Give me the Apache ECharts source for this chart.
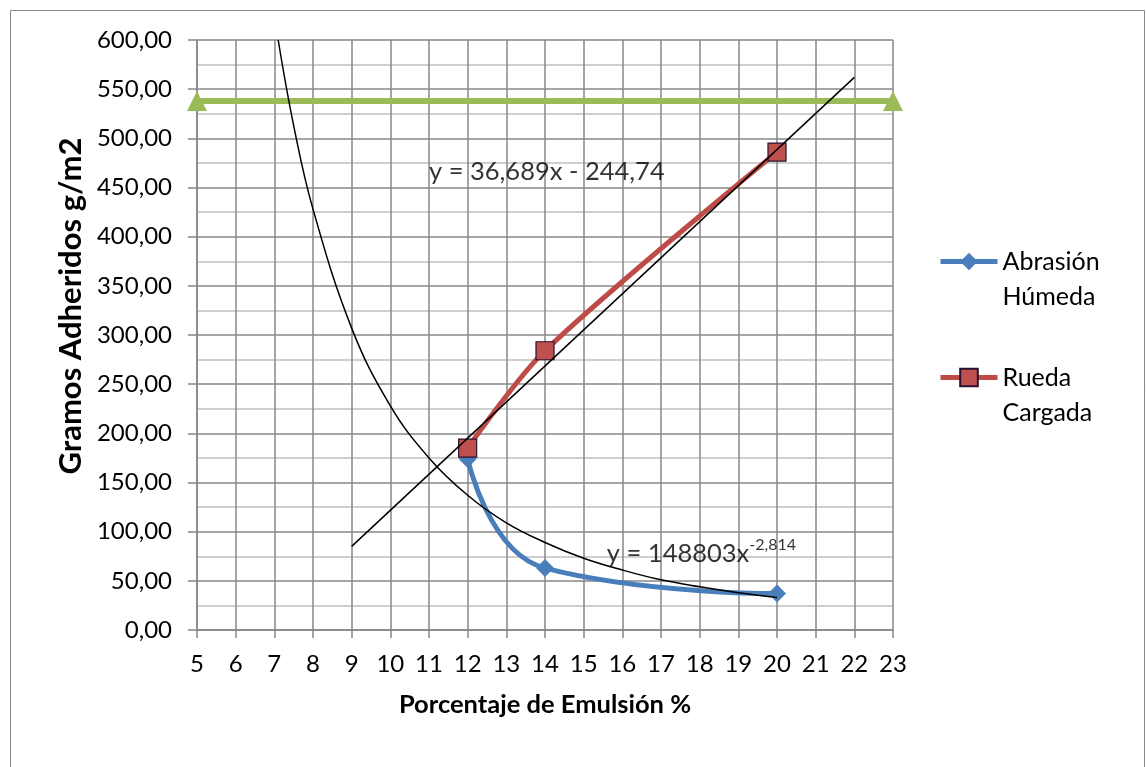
<!DOCTYPE html>
<html>
<head>
<meta charset="utf-8">
<script src="https://cdn.jsdelivr.net/npm/echarts@6/dist/echarts.min.js"></script>
<style>html,body{margin:0;padding:0;background:#fff}#c{width:1146px;height:767px}</style>
</head>
<body>
<div id="c"></div>
<script>
// ---- data ----
var xTicks = [5,6,7,8,9,10,11,12,13,14,15,16,17,18,19,20,21,22,23];
var yTicks = [0,50,100,150,200,250,300,350,400,450,500,550,600];
var abrasionX = [12, 14, 20];
var abrasionY = [174, 63, 37];
var ruedaX = [12, 14, 20];
var ruedaY = [185, 284, 486];
var limiteX = [5, 23];
var limiteY = [538, 538];
var linTrendX = [9, 22];
var linTrendY = [85, 562];
var powTrendX = [7.1, 7.5, 8, 9, 10, 11, 12, 13, 14, 15, 16, 17, 18, 19, 20];
var powTrendY = [600, 513, 428, 307, 228, 175, 137, 109, 89, 73, 61, 51, 44, 38, 33];
var linLabel = 'y = 36,689x - 244,74';
var linLabelAt = [11.0, 466];
var powLabelBase = 'y = 148803x';
var powLabelExp = '-2,814';
var powLabelAt = [15.6, 78];

function pairs(xs, ys){ return xs.map(function(x,i){ return [x, ys[i]]; }); }

var FONT = 'Lato';
function legendCfg(name, top){
  return {
    data: [name], orient: 'vertical', left: 933, top: top,
    itemWidth: 57, itemHeight: 22, itemGap: 6,
    lineStyle: {width: 5},
    formatter: function(n){ return '\n' + n.replace(' ', '\n'); },
    textStyle: {fontSize: 25, lineHeight: 35, color: '#000', fontFamily: FONT}
  };
}
var chart = echarts.init(document.getElementById('c'));
chart.setOption({
  animation: false,
  backgroundColor: '#fff',
  textStyle: {fontFamily: FONT},
  graphic: [{
    type: 'rect', shape: {x: 10.5, y: 10.5, width: 1134, height: 770},
    style: {fill: 'none', stroke: '#878787', lineWidth: 1}, silent: true, z: -10
  }],
  grid: {left: 197, top: 40, width: 696, height: 590, containLabel: false},
  xAxis: {
    type: 'value', min: 5, max: 23, interval: 1,
    axisLine: {show: true, lineStyle: {color: '#878787', width: 1.5}},
    axisTick: {show: true, length: 8, lineStyle: {color: '#878787', width: 1.5}},
    splitLine: {show: true, lineStyle: {color: '#878787', width: 1.5}},
    axisLabel: {margin: 22, fontSize: 24, color: '#000', fontFamily: FONT,
      formatter: function(v){ return xTicks.indexOf(v) >= 0 ? String(v) : ''; }},
    name: 'Porcentaje de Emulsión %', nameLocation: 'middle', nameGap: 62,
    nameTextStyle: {fontSize: 25.5, fontWeight: 'bold', color: '#000', fontFamily: FONT}
  },
  yAxis: {
    type: 'value', min: 0, max: 600, interval: 50,
    axisLine: {show: true, lineStyle: {color: '#878787', width: 1.5}},
    axisTick: {show: true, length: 9, lineStyle: {color: '#878787', width: 1.5}},
    splitLine: {show: true, lineStyle: {color: '#878787', width: 1.5}},
    minorTick: {show: false, splitNumber: 2},
    minorSplitLine: {show: true, lineStyle: {color: '#c0c0c0', width: 1.5}},
    axisLabel: {margin: 25, fontSize: 24, color: '#000', fontFamily: FONT,
      formatter: function(v){ return yTicks.indexOf(v) >= 0 ? v.toFixed(2).replace('.', ',') : ''; }},
    name: 'Gramos Adheridos g/m2', nameLocation: 'middle', nameGap: 92,
    nameTextStyle: {fontSize: 31, fontWeight: 'bold', color: '#000', fontFamily: FONT, padding: [0,0,0,58]}
  },
  legend: [legendCfg('Abrasión Húmeda', 204), legendCfg('Rueda Cargada', 320)],
  series: [
    {
      name: 'Límite', type: 'line', data: pairs(limiteX, limiteY),
      symbol: 'triangle', symbolSize: 20, z: 3,
      lineStyle: {color: '#9bbb59', width: 6}, itemStyle: {color: '#9bbb59'}
    },
    {
      name: 'Abrasión Húmeda', type: 'line', data: pairs(abrasionX, abrasionY),
      smooth: 0.5, symbol: 'diamond', symbolSize: 18, z: 4,
      lineStyle: {color: '#4a7ebb', width: 5}, itemStyle: {color: '#4a7ebb'}
    },
    {
      name: 'Rueda Cargada', type: 'line', data: pairs(ruedaX, ruedaY),
      smooth: 0.3, symbol: 'rect', symbolSize: 18, z: 5,
      lineStyle: {color: '#be4b48', width: 5},
      itemStyle: {color: '#c0504d', borderColor: '#2a1030', borderWidth: 1.2}
    },
    {
      name: 'lin', type: 'line', data: pairs(linTrendX, linTrendY),
      symbol: 'none', z: 6, lineStyle: {color: '#000', width: 1.5}
    },
    {
      name: 'pow', type: 'line', data: pairs(powTrendX, powTrendY),
      smooth: 0.4, symbol: 'none', z: 6, lineStyle: {color: '#000', width: 1.5}
    },
    {
      name: 'labels', type: 'scatter', symbolSize: 0, z: 7, silent: true,
      data: [
        {value: linLabelAt, label: {show: true, position: 'right', distance: 0,
          formatter: linLabel, fontSize: 25.5, color: '#000', fontFamily: FONT}},
        {value: powLabelAt, label: {show: true, position: 'right', distance: 0,
          formatter: '{b|' + powLabelBase + '}{s|' + powLabelExp + '}',
          rich: {
            b: {fontSize: 25.5, color: '#000', fontFamily: FONT},
            s: {fontSize: 16, color: '#000', fontFamily: FONT, padding: [0,0,16,0]}
          }}}
      ]
    }
  ]
});
</script>
</body>
</html>
